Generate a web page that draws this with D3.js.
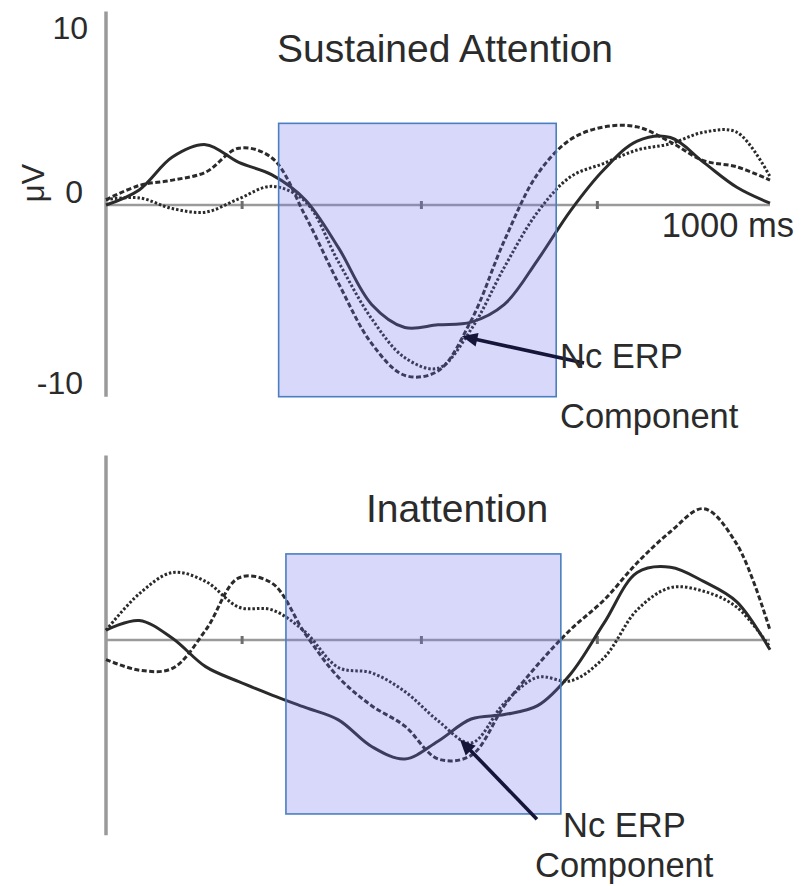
<!DOCTYPE html>
<html>
<head>
<meta charset="utf-8">
<script src="https://cdn.jsdelivr.net/npm/d3@7"></script>
<style>
  body { margin: 0; background: #fff; }
  svg text { font-family: "Liberation Sans", Arial, sans-serif; fill: #2b2b2b; }
</style>
</head>
<body>
<div id="chart"></div>
<script>
// sample times (ms) shared by every waveform
const times = [0, 50, 100, 150, 200, 250, 300, 350, 400, 450, 500, 550, 600, 650, 700, 750, 800, 850, 900, 950, 1000]

// Sustained Attention (µV)
const attnSolid = [0, 0.85, 2.7, 3.4, 2.4, 1.7, 0.3, -2.4, -5.6, -6.9, -6.75, -6.6, -5.6, -3.1, -0.3, 2.0, 3.6, 3.8, 2.4, 1.0, 0.1]
const attnDashed = [0.3, 1.1, 1.4, 1.85, 3.2, 2.65, -0.6, -4.4, -7.8, -9.6, -9.35, -6.5, -2.0, 1.75, 3.7, 4.4, 4.4, 3.55, 2.5, 2.15, 1.4]
const attnDotted = [0.3, 0.4, -0.2, -0.4, 0.35, 1.05, 0.2, -3.2, -6.4, -8.6, -9.2, -7.0, -3.5, -0.4, 1.6, 2.35, 3.1, 3.45, 4.1, 4.1, 1.6]

// Inattention (µV)
const inattnSolid = [0.55, 1.1, 0.1, -1.5, -2.35, -3.1, -3.8, -4.5, -6.0, -6.7, -5.7, -4.45, -4.2, -3.7, -1.9, 0.95, 3.8, 4.1, 3.3, 2.15, -0.55]
const inattnDashed = [-1.1, -1.7, -1.6, 0.55, 3.5, 3.2, 0.35, -2.1, -3.7, -4.85, -6.7, -6.5, -3.7, -1.4, 0.6, 2.25, 4.35, 6.1, 7.4, 5.4, 0.55]
const inattnDotted = [0.55, 2.6, 3.8, 3.3, 1.85, 1.7, 0.45, -1.55, -1.85, -2.9, -4.55, -5.8, -3.55, -2.1, -2.3, -1.0, 1.7, 2.95, 2.75, 1.85, -0.4]

const yTicks = [10, 0, -10]
const xTickMarks = [205, 475, 740] // unlabeled ticks on the baseline
const xEndLabel = "1000 ms"

const width = 808
const height = 886
const lineColor = "#2a2a2a"
const axisColor = "#9a9a9a"
const dashes = ["none", "5,2.5", "2.5,2"]

const svg = d3
  .create("svg")
  .attr("width", width)
  .attr("height", height)
  .attr("viewBox", [0, 0, width, height])

const x = d3.scaleLinear().domain([0, 1000]).range([106, 770])

function ErpPanel(
  series,
  {
    title,
    titleX,
    titleY,
    zeroY, // pixel row of 0 µV
    pxPerUv = 17.75,
    axisExtent = [-10.8, 10.9],
    showYLabels = false,
    showXLabel = false,
    box, // [t0, t1, v0, v1]
    arrow, // [tFrom, vFrom, tTo, vTo]
    note // [x, y, lineGap, firstLineIndent]
  }
) {
  const y = d3
    .scaleLinear()
    .domain([-10, 10])
    .range([zeroY + 10 * pxPerUv, zeroY - 10 * pxPerUv])

  const g = svg.append("g")

  // vertical axis
  g.append("line")
    .attr("x1", x(0))
    .attr("x2", x(0))
    .attr("y1", y(axisExtent[1]))
    .attr("y2", y(axisExtent[0]))
    .attr("stroke", axisColor)
    .attr("stroke-width", 3.5)

  // baseline
  g.append("line")
    .attr("x1", x(0))
    .attr("x2", x(1000))
    .attr("y1", y(0))
    .attr("y2", y(0))
    .attr("stroke", axisColor)
    .attr("stroke-width", 2.5)

  g.selectAll(".tick-mark")
    .data(xTickMarks)
    .join("line")
    .attr("class", "tick-mark")
    .attr("x1", d => x(d))
    .attr("x2", d => x(d))
    .attr("y1", y(0) - 4)
    .attr("y2", y(0) + 4)
    .attr("stroke", "#6e6e6e")
    .attr("stroke-width", 3)

  if (showYLabels) {
    g.selectAll(".y-label")
      .data(yTicks)
      .join("text")
      .attr("class", "y-label")
      .attr("x", d => (d === 10 ? 88 : 83))
      .attr("y", d => y(d))
      // the 0 label sits a bit above the baseline in the original
      .attr("dy", d => (d === 0 ? "-0.05em" : "0.36em"))
      .attr("text-anchor", "end")
      .style("font-size", "32px")
      .text(d => d)

    g.append("text")
      .attr("transform", `translate(44, ${y(0) - 22}) rotate(-90)`)
      .attr("text-anchor", "middle")
      .style("font-size", "31px")
      .text("μV")
  }

  if (showXLabel) {
    g.append("text")
      .attr("x", x(1000) + 24)
      .attr("y", y(0) + 32)
      .attr("text-anchor", "end")
      .style("font-size", "34.5px")
      .text(xEndLabel)
  }

  g.append("text")
    .attr("x", titleX)
    .attr("y", titleY)
    .attr("text-anchor", "middle")
    .style("font-size", "39px")
    .text(title)

  const line = d3
    .line()
    .x((d, i) => x(times[i]))
    .y(d => y(d))
    .curve(d3.curveCatmullRom.alpha(0.5))

  g.selectAll(".erp")
    .data(series)
    .join("path")
    .attr("class", "erp")
    .attr("fill", "none")
    .attr("stroke", lineColor)
    .attr("stroke-width", 3)
    .attr("stroke-dasharray", (d, i) => dashes[i])
    .attr("d", d => line(d))

  // highlighted Nc window
  g.append("rect")
    .attr("x", x(box[0]))
    .attr("y", y(box[2]))
    .attr("width", x(box[1]) - x(box[0]))
    .attr("height", y(box[3]) - y(box[2]))
    .attr("fill", "rgb(110,110,240)")
    .attr("fill-opacity", 0.27)
    .attr("stroke", "#4a7ec0")
    .attr("stroke-width", 1.6)

  // arrow
  const ax1 = x(arrow[0]),
    ay1 = y(arrow[1]),
    ax2 = x(arrow[2]),
    ay2 = y(arrow[3])
  const ang = Math.atan2(ay2 - ay1, ax2 - ax1)
  const head = 17
  g.append("line")
    .attr("x1", ax1)
    .attr("y1", ay1)
    .attr("x2", ax2 - Math.cos(ang) * 8)
    .attr("y2", ay2 - Math.sin(ang) * 8)
    .attr("stroke", "#15153a")
    .attr("stroke-width", 3.6)
  g.append("path")
    .attr(
      "d",
      d3.line()([
        [ax2, ay2],
        [ax2 - head * Math.cos(ang - 0.42), ay2 - head * Math.sin(ang - 0.42)],
        [ax2 - head * Math.cos(ang + 0.42), ay2 - head * Math.sin(ang + 0.42)]
      ]) + "Z"
    )
    .attr("fill", "#15153a")

  const t = g
    .append("text")
    .attr("x", note[0])
    .attr("y", note[1])
    .style("font-size", "34.5px")
  t.append("tspan").attr("x", note[0] + note[3]).text("Nc ERP")
  t.append("tspan").attr("x", note[0]).attr("dy", note[2]).text("Component")
}

ErpPanel([attnSolid, attnDashed, attnDotted], {
  title: "Sustained Attention",
  titleX: 445,
  titleY: 62,
  zeroY: 205,
  showYLabels: true,
  showXLabel: true,
  box: [260, 678, 4.6, -10.8],
  arrow: [720, -8.9, 536, -7.4],
  note: [560, 368, 60, 0]
})

ErpPanel([inattnSolid, inattnDashed, inattnDotted], {
  title: "Inattention",
  titleX: 457,
  titleY: 522,
  zeroY: 640,
  axisExtent: [-11, 10.4],
  box: [271, 685, 4.85, -9.8],
  arrow: [649, -10.1, 533, -5.6],
  note: [535, 837, 40, 28]
})

document.querySelector("#chart").append(svg.node())
</script>
</body>
</html>
